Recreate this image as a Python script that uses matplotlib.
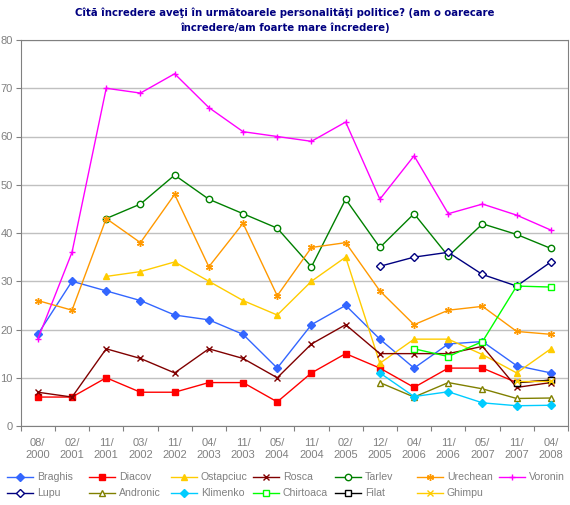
import matplotlib.pyplot as plt
from matplotlib.lines import Line2D
import numpy as np

nan = np.nan

periods = ["08/\n2000", "02/\n2001", "11/\n2001", "03/\n2002", "11/\n2002", "04/\n2003",
           "11/\n2003", "05/\n2004", "11/\n2004", "02/\n2005", "12/\n2005", "04/\n2006",
           "11/\n2006", "05/\n2007", "11/\n2007", "04/\n2008"]

braghis   = [19, 30, 28, 26, 23, 22, 19, 12, 21, 25, 18, 12, 17, 17.5, 12.5, 11]
diacov    = [6, 6, 10, 7, 7, 9, 9, 5, 11, 15, 12, 8, 12, 12, 9, 9.5]
ostapciuc = [nan, nan, 31, 32, 34, 30, 26, 23, 30, 35, 13, 18, 18, 14.8, 11, 16]
rosca     = [7, 6, 16, 14, 11, 16, 14, 10, 17, 21, 15, 15, 15, 16.5, 8, 9]
tarlev    = [nan, nan, 43, 46, 52, 47, 44, 41, 33, 47, 37, 44, 35.2, 41.9, 39.7, 36.8]
urechean  = [26, 24, 43, 38, 48, 33, 42, 27, 37, 38, 28, 21, 24, 24.8, 19.6, 19]
voronin   = [18, 36, 70, 69, 73, 66, 61, 60, 59, 63, 47, 56, 44, 46, 43.7, 40.6]
lupu      = [nan] * 10 + [33.1, 35, 36, 31.4, 29, 34]
andronic  = [nan] * 10 + [9, 6, 9, 7.7, 5.7, 5.8]
klimenko  = [nan] * 10 + [11, 6.1, 7.1, 4.8, 4.2, 4.3]
chirtoaca = [nan] * 11 + [16, 14.4, 17.5, 29, 28.8]
filat     = [nan] * 14 + [9, 9.5]
ghimpu    = [nan] * 14 + [9.3, 9.3]

# name, values, colour, marker, filled marker
series = [
    ("Braghis", braghis, "#3366FF", "D", True),
    ("Diacov", diacov, "#FF0000", "s", True),
    ("Ostapciuc", ostapciuc, "#FFCC00", "^", True),
    ("Rosca", rosca, "#800000", "x", True),
    ("Tarlev", tarlev, "#008000", "o", False),
    ("Urechean", urechean, "#FF9900", (6, 2, 0), True),
    ("Voronin", voronin, "#FF00FF", "+", True),
    ("Lupu", lupu, "#000080", "D", False),
    ("Andronic", andronic, "#808000", "^", False),
    ("Klimenko", klimenko, "#00CCFF", "D", True),
    ("Chirtoaca", chirtoaca, "#00FF00", "s", False),
    ("Filat", filat, "#000000", "s", False),
    ("Ghimpu", ghimpu, "#FFCC00", "x", True),
]

W, H = 570, 505
grey = "#808080"
font = ["Liberation Sans", "DejaVu Sans"]

fig = plt.figure(figsize=(W / 100, H / 100), dpi=100)
ax = fig.add_axes([20.7 / W, 79 / H, 547.3 / W, 386 / H])

def marker_style(col, mk, filled):
    ms = {"D": 4.2, "s": 4.6, "o": 4.6, "^": 5.0}.get(mk if isinstance(mk, str) else "", 5.0)
    return dict(marker=mk, markersize=ms, markerfacecolor=col if filled else "white",
                markeredgecolor=col, markeredgewidth=1)

x = np.arange(len(periods))
for name, vals, col, mk, filled in series:
    ax.plot(x, vals, color=col, linewidth=1, **marker_style(col, mk, filled))

ax.set_xlim(-0.5, len(periods) - 0.5)
ax.set_ylim(0, 80)
ax.set_yticks(range(0, 81, 10))
ax.yaxis.grid(True, color="#C0C0C0", linewidth=1)
ax.set_axisbelow(True)
ax.set_xticks(np.arange(-0.5, len(periods), 1))
ax.set_xticklabels([])
ax.set_xticks(x, minor=True)
ax.set_xticklabels(periods, minor=True, family=font, fontsize=8, color=grey)
ax.tick_params(axis="x", which="major", length=3.5, color=grey)
ax.tick_params(axis="x", which="minor", length=0, pad=9)
ax.tick_params(axis="y", length=3.6, color=grey, labelsize=8, labelcolor=grey, pad=2)
for lab in ax.get_yticklabels():
    lab.set_family(font)
for sp in ax.spines.values():
    sp.set_color(grey)

fig.text(0.5, 1 - 12.7 / H,
         "Cîtă încredere aveţi în următoarele personalităţi politice? (am o oarecare",
         ha="center", va="center", fontsize=7.3, fontweight="bold", color="#000080")
fig.text(0.5, 1 - 27.3 / H, "încredere/am foarte mare încredere)",
         ha="center", va="center", fontsize=7.3, fontweight="bold", color="#000080")

# Excel style legend: two rows of seven fixed-width columns
for i, (name, vals, col, mk, filled) in enumerate(series):
    row, c = divmod(i, 7)
    x0 = 7.3 + 82 * c
    yy = 1 - (476.7 + 16 * row) / H
    fig.add_artist(Line2D([x0 / W, (x0 + 26) / W], [yy, yy], transform=fig.transFigure,
                          color=col, linewidth=1))
    fig.add_artist(Line2D([(x0 + 13) / W], [yy], transform=fig.transFigure,
                          linestyle="none", **marker_style(col, mk, filled)))
    fig.text((x0 + 29.5) / W, yy, name, ha="left", va="center", fontsize=7.6,
             family=font, color=grey)

fig.savefig("out.png", dpi=100)
